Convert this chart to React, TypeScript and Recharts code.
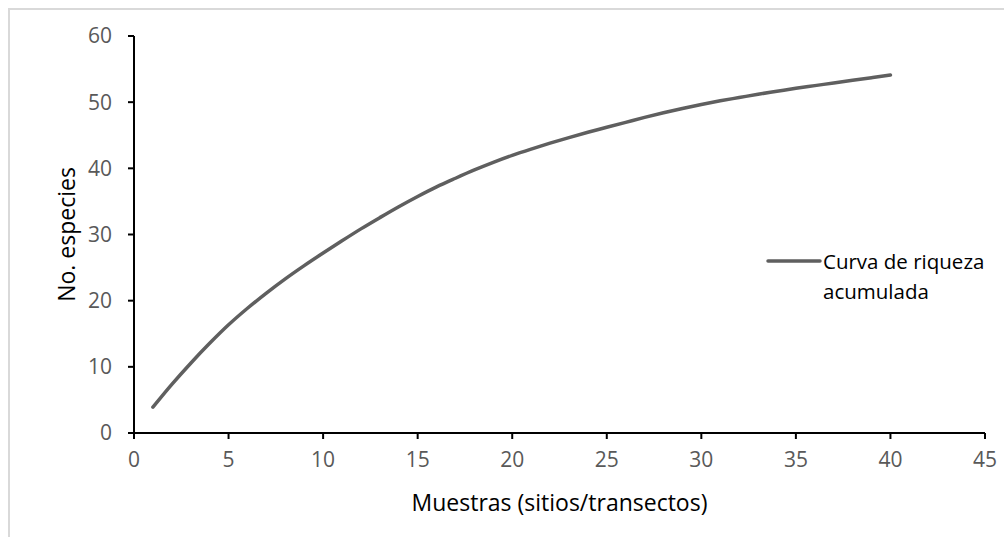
import React from 'react';
import { LineChart, Line, XAxis, YAxis } from 'recharts';

const muestras = [1,2,3,4,5,6,7,8,9,10,11,12,13,14,15,16,17,18,19,20,21,22,23,24,25,26,27,28,29,30,31,32,33,34,35,36,37,38,39,40];
const especies = [3.9,7.35,10.55,13.55,16.35,18.85,21.15,23.3,25.3,27.2,29.05,30.85,32.55,34.2,35.75,37.2,38.5,39.75,40.9,41.95,42.9,43.8,44.65,45.45,46.2,46.95,47.7,48.4,49.05,49.65,50.2,50.7,51.2,51.65,52.1,52.5,52.9,53.3,53.7,54.1];
const xTicks = [0,5,10,15,20,25,30,35,40,45];
const yTicks = [0,10,20,30,40,50,60];
const serieNombre = ['Curva de riqueza', 'acumulada'];

const data = muestras.map((m, i) => ({ x: m, y: especies[i] }));

const FONT = '"Open Sans", "Liberation Sans", sans-serif';
const LINE_COLOR = '#5f5f5f';

const LegendBox = () => (
  <div style={{ position: 'absolute', left: 766, top: 246, width: 240, height: 70, fontFamily: FONT, fontSize: 20.5, color: '#000' }}>
    <svg width={56} height={10} style={{ position: 'absolute', left: 0, top: 10 }}>
      <line x1={2} y1={5} x2={54} y2={5} stroke={LINE_COLOR} strokeWidth={3.5} strokeLinecap="round" />
    </svg>
    <div style={{ position: 'absolute', left: 57, top: 0, lineHeight: '30px', whiteSpace: 'nowrap' }}>
      {serieNombre[0]}<br />{serieNombre[1]}
    </div>
  </div>
);

export default function App() {
  return (
    <div style={{ position: 'absolute', left: 0, top: 0, width: 1004, height: 537, background: '#fff', overflow: 'hidden' }}>
      <div style={{ position: 'absolute', left: 8, top: 8, width: 1100, height: 600, borderTop: '2px solid #d9d9d9', borderLeft: '2px solid #d9d9d9' }} />
      <div style={{ position: 'absolute', left: 0, top: 0 }}>
        <LineChart width={1004} height={537} data={data} margin={{ top: 36, right: 19, bottom: 74, left: 74 }}>
          <XAxis
            type="number"
            dataKey="x"
            domain={[0, 45]}
            ticks={xTicks}
            interval={0}
            height={30}
            stroke="#000"
            strokeWidth={2}
            tickSize={6}
            tickMargin={13}
            tick={{ fill: '#595959', fontSize: 21, fontFamily: FONT }}
            label={{ value: 'Muestras (sitios/transectos)', position: 'insideBottom', offset: -48, fill: '#000', fontSize: 23, fontFamily: FONT }}
          />
          <YAxis
            type="number"
            domain={[0, 60]}
            ticks={yTicks}
            interval={0}
            width={60}
            stroke="#000"
            strokeWidth={2}
            tickSize={6}
            tickMargin={16}
            tick={{ fill: '#595959', fontSize: 21, fontFamily: FONT }}
            label={{ value: 'No. especies', angle: -90, position: 'insideLeft', offset: -7, fill: '#000', fontSize: 23, fontFamily: FONT, style: { textAnchor: 'middle' } }}
          />
          <Line
            type="monotone"
            dataKey="y"
            name="Curva de riqueza acumulada"
            stroke={LINE_COLOR}
            strokeWidth={3.5}
            strokeLinecap="round"
            dot={false}
            isAnimationActive={false}
          />
        </LineChart>
      </div>
      <LegendBox />
    </div>
  );
}
